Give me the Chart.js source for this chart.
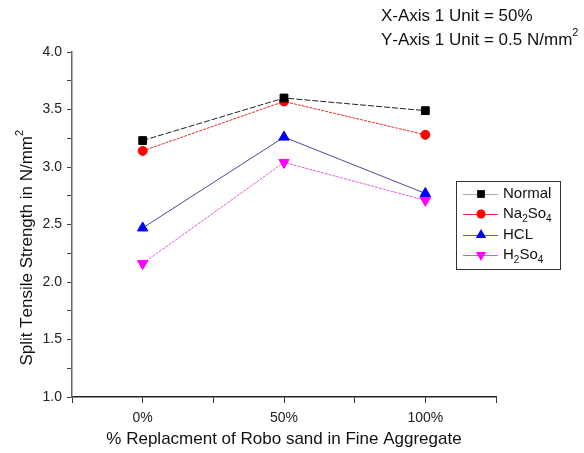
<!DOCTYPE html>
<html>
<head>
<meta charset="utf-8">
<script src="https://cdn.jsdelivr.net/npm/chart.js@4/dist/chart.umd.min.js"></script>
<style>
html, body { margin: 0; padding: 0; background: #fff; }
#wrap { width: 584px; height: 453px; }
</style>
</head>
<body>
<div id="wrap"><canvas id="chart" width="584" height="453"></canvas></div>
<script>
// categories on the x axis
var categories = ['0%', '50%', '100%'];
// split tensile strength, N/mm2
var normal = [3.23, 3.60, 3.49];
var na2so4 = [3.14, 3.57, 3.28];
var hcl = [2.47, 3.26, 2.77];
var h2so4 = [2.16, 3.04, 2.71];
// series names, "_" marks a subscript digit
var seriesNames = ['Normal', 'Na_2So_4', 'HCL', 'H_2So_4'];
var yTicks = [1.0, 1.5, 2.0, 2.5, 3.0, 3.5, 4.0];

var FONT = '"Liberation Sans", Arial, sans-serif';

function pts(arr) {
  return arr.map(function (v, i) { return { x: i, y: v }; });
}

// draws text where "_d" is a subscript and "^d" a superscript
function richText(ctx, str, x, y, size) {
  var i = 0;
  while (i < str.length) {
    var c = str[i];
    if ((c === '_' || c === '^') && i + 1 < str.length) {
      ctx.font = Math.round(size * 0.65) + 'px ' + FONT;
      var dy = c === '_' ? size * 0.35 : -size * 0.4;
      ctx.fillText(str[i + 1], x, y + dy);
      x += ctx.measureText(str[i + 1]).width;
      i += 2;
    } else {
      ctx.font = size + 'px ' + FONT;
      ctx.fillText(c, x, y);
      x += ctx.measureText(c).width;
      i += 1;
    }
  }
  return x;
}

var extras = {
  id: 'extras',
  afterDraw: function (chart) {
    var ctx = chart.ctx;
    ctx.save();
    ctx.fillStyle = '#111';
    ctx.textBaseline = 'middle';
    ctx.textAlign = 'left';
    richText(ctx, 'X-Axis 1 Unit = 50%', 381, 16, 17);
    richText(ctx, 'Y-Axis 1 Unit = 0.5 N/mm^2', 381, 40, 17);

    // legend box
    ctx.strokeStyle = '#333';
    ctx.lineWidth = 1;
    ctx.strokeRect(456.5, 181.5, 104, 88);
    var rows = [194, 214, 235, 255];
    chart.data.datasets.forEach(function (ds, k) {
      var y = rows[k];
      ctx.strokeStyle = ds.legendLine;
      ctx.lineWidth = 1;
      ctx.setLineDash([]);
      ctx.beginPath();
      ctx.moveTo(463, y + 0.5);
      ctx.lineTo(498, y + 0.5);
      ctx.stroke();
      ctx.fillStyle = ds.pointBackgroundColor;
      Chart.helpers.drawPoint(ctx, {
        pointStyle: ds.pointStyle,
        rotation: ds.pointRotation || 0,
        radius: ds.pointRadius,
        borderWidth: 0
      }, 481, y);
      ctx.fillStyle = '#111';
      richText(ctx, seriesNames[k], 503, y, 15);
    });

    // y axis title with superscript
    ctx.translate(27, 247);
    ctx.rotate(-Math.PI / 2);
    ctx.fillStyle = '#111';
    ctx.textBaseline = 'middle';
    var title = 'Split Tensile Strength in N/mm^2';
    ctx.font = '17px ' + FONT;
    var w = ctx.measureText(title.replace('^', '')).width;
    richText(ctx, title, -w / 2, 0, 17);
    ctx.restore();
  }
};

new Chart(document.getElementById('chart'), {
  type: 'line',
  data: {
    datasets: [
      {
        label: seriesNames[0], data: pts(normal),
        borderColor: '#222', borderWidth: 1, borderDash: [6, 2], legendLine: '#aaa',
        pointStyle: 'rect', pointRadius: 5.5,
        pointBackgroundColor: '#000', pointBorderColor: '#000'
      },
      {
        label: seriesNames[1], data: pts(na2so4),
        borderColor: '#e03030', borderWidth: 1, borderDash: [3, 1], legendLine: '#e03030',
        pointStyle: 'circle', pointRadius: 4.5,
        pointBackgroundColor: '#ff0000', pointBorderColor: '#ff0000'
      },
      {
        label: seriesNames[2], data: pts(hcl),
        borderColor: '#4a4a9a', borderWidth: 1, legendLine: '#6060b0',
        pointStyle: 'triangle', pointRadius: 6,
        pointBackgroundColor: '#0000ff', pointBorderColor: '#0000ff'
      },
      {
        label: seriesNames[3], data: pts(h2so4),
        borderColor: '#e060e0', borderWidth: 1, borderDash: [3, 1], legendLine: '#ff40ff',
        pointStyle: 'triangle', pointRotation: 180, pointRadius: 6,
        pointBackgroundColor: '#ff00ff', pointBorderColor: '#ff00ff'
      }
    ]
  },
  options: {
    responsive: false,
    animation: false,
    layout: { padding: { top: 52, right: 88, left: 0, bottom: 0 } },
    plugins: { legend: { display: false }, tooltip: { enabled: false } },
    scales: {
      x: {
        type: 'linear', min: -0.5, max: 2.5,
        afterFit: function (s) { s.height = 56; },
        afterBuildTicks: function (s) {
          var t = [];
          for (var v = -0.5; v <= 2.5; v += 0.5) t.push({ value: v });
          s.ticks = t;
        },
        border: { color: '#222', width: 1.5 },
        grid: { drawOnChartArea: false, drawTicks: true, tickLength: 6, tickColor: '#333' },
        ticks: {
          autoSkip: false, maxRotation: 0, padding: 7, color: '#222',
          font: { family: FONT, size: 14 },
          callback: function (v) {
            return Number.isInteger(v) ? categories[v] : '';
          }
        },
        title: {
          display: true, text: '% Replacment of Robo sand in Fine Aggregate',
          color: '#111', font: { family: FONT, size: 17 }, padding: { top: 0, bottom: 3 }
        }
      },
      y: {
        min: 1, max: 4,
        afterFit: function (s) { s.width = 72; },
        afterBuildTicks: function (s) {
          var t = [];
          for (var v = 1; v <= 4.001; v += 0.25) t.push({ value: Math.round(v * 100) / 100 });
          s.ticks = t;
        },
        border: { color: '#666', width: 1.5 },
        grid: { drawOnChartArea: false, drawTicks: true, tickLength: 5, tickColor: '#444' },
        ticks: {
          autoSkip: false, padding: 5, color: '#222',
          font: { family: FONT, size: 14 },
          callback: function (v) {
            return yTicks.indexOf(v) >= 0 ? v.toFixed(1) : '';
          }
        }
      }
    }
  },
  plugins: [extras]
});
</script>
</body>
</html>
